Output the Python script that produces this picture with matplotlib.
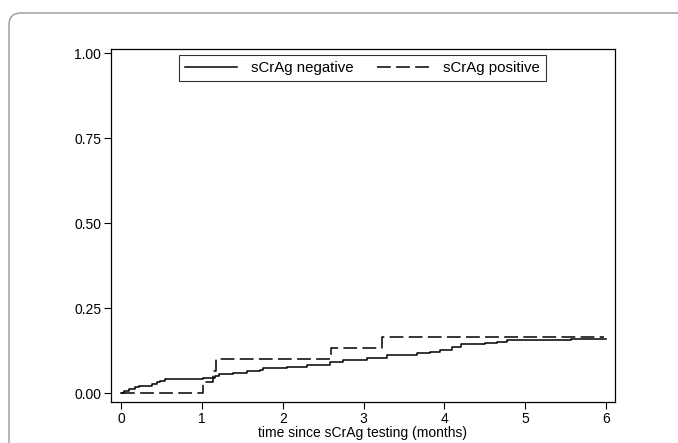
import numpy as np
import matplotlib
matplotlib.use("Agg")
import matplotlib.pyplot as plt
from matplotlib.patches import FancyBboxPatch
from matplotlib.transforms import IdentityTransform

# cumulative incidence, step times (months) and values after each step
neg_t = [0, 0.04, 0.10, 0.17, 0.22, 0.38, 0.45, 0.48, 0.54, 1.02, 1.16, 1.21,
         1.39, 1.56, 1.72, 1.76, 2.05, 2.30, 2.59, 2.75, 3.04, 3.29, 3.66,
         3.82, 3.95, 4.09, 4.20, 4.50, 4.65, 4.77, 5.56, 6.0]
neg_y = [0, 0.006, 0.012, 0.018, 0.023, 0.028, 0.033, 0.037, 0.043, 0.046,
         0.052, 0.057, 0.061, 0.065, 0.070, 0.074, 0.079, 0.085, 0.093, 0.098,
         0.105, 0.112, 0.119, 0.122, 0.129, 0.137, 0.144, 0.149, 0.152, 0.157,
         0.161, 0.161]

pos_t = [0, 1.02, 1.14, 1.17, 2.60, 3.23, 5.98]
pos_y = [0, 0.033, 0.067, 0.100, 0.133, 0.167, 0.167]

xticks = [0, 1, 2, 3, 4, 5, 6]
yticks = [0, 0.25, 0.5, 0.75, 1.0]
ylabels = ["0.00", "0.25", "0.50", "0.75", "1.00"]

plt.rcParams['font.family'] = ['Liberation Sans', 'DejaVu Sans']

fig = plt.figure(figsize=(6.78, 4.43), dpi=100)
ax = fig.add_axes([111/678, 1 - 402/443, (615 - 111)/678, (402 - 49)/443])

ax.plot(neg_t, neg_y, drawstyle='steps-post', color='black', lw=1.1,
        label='sCrAg negative')
ax.plot(pos_t, pos_y, drawstyle='steps-post', color='black', lw=1.1,
        dashes=(9, 3.5), label='sCrAg positive')

ax.set_xlim(-0.124, 6.11)
ax.set_ylim(-0.025, 1.012)
ax.set_xticks(xticks)
ax.set_yticks(yticks)
ax.set_yticklabels(ylabels)
ax.tick_params(direction='out', length=5, width=0.8, labelsize=10, pad=2)
for s in ax.spines.values():
    s.set_linewidth(0.9)
ax.set_xlabel('time since sCrAg testing (months)', fontsize=10, labelpad=0)

leg = fig.legend(loc='upper center', bbox_to_anchor=((172 + 553) / 2 / 678, 1 - 55/443),
                 ncol=2, fontsize=10.8, frameon=True, fancybox=False,
                 handlelength=3.5, columnspacing=1.6, handletextpad=0.9,
                 borderpad=0.4, borderaxespad=0)
leg.get_frame().set_edgecolor('black')
leg.get_frame().set_linewidth(0.8)

# rounded outer border (cropped at right and bottom)
border = FancyBboxPatch((9, -30), 720, 443 - 13 + 30,
                        boxstyle='round,pad=0,rounding_size=12',
                        transform=IdentityTransform(), facecolor='none',
                        edgecolor='#999999', lw=1.0)
fig.patches.append(border)

fig.savefig('out.png', dpi=100)
